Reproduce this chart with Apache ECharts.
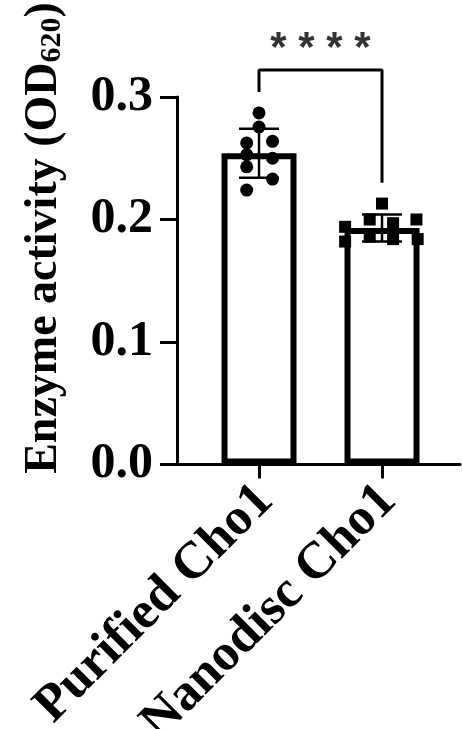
<!DOCTYPE html>
<html>
<head>
<meta charset="utf-8">
<script src="https://cdn.jsdelivr.net/npm/echarts@6/dist/echarts.min.js"></script>
<style>
  html, body { margin: 0; padding: 0; background: #fff; }
  #chart { width: 462px; height: 729px; }
</style>
</head>
<body>
<div id="chart"></div>
<script>
// Groups and measured enzyme activity (OD620) per replicate
const categories = ['Purified Cho1', 'Nanodisc Cho1'];
const purifiedValues = [0.287, 0.2755, 0.2625, 0.2638, 0.253, 0.250, 0.243, 0.233, 0.224];
const nanodiscValues = [0.213, 0.200, 0.197, 0.200, 0.194, 0.182, 0.186, 0.184, 0.184];
const groupMeans = [0.254, 0.193];
const groupSDs = [0.020, 0.011];
const yTicks = [0.0, 0.1, 0.2, 0.3];
const significance = '* * * *';

// Horizontal spread of replicate dots around each group centre (axis units)
const purifiedSpread = [0, 0, -0.1, 0.11, -0.1, 0.11, -0.1, 0.11, -0.1];
const nanodiscSpread = [0, -0.1, 0.09, 0.28, -0.3, -0.3, -0.1, 0.09, 0.29];

const serif = '"Liberation Serif", "Times New Roman", serif';
const groupPos = categories.map((_, i) => i + 1);

const bracketTop = Math.max(...purifiedValues, ...nanodiscValues) + 0.035;
const bracketData = [
  [groupPos[0], Math.max(...purifiedValues) + 0.017],
  [groupPos[0], bracketTop],
  [groupPos[1], bracketTop],
  [groupPos[1], Math.max(...nanodiscValues) + 0.017]
];

const chart = echarts.init(document.getElementById('chart'), null, { renderer: 'canvas' });

chart.setOption({
  animation: false,
  backgroundColor: '#fff',
  grid: { left: 177, top: 97, width: 283, height: 367.5, containLabel: false, outerBoundsMode: 'none' },
  xAxis: {
    type: 'value',
    min: 0.3333,
    max: 2.634,
    axisLine: { show: true, onZero: false, lineStyle: { color: '#000', width: 3 } },
    axisTick: { show: true, customValues: groupPos, length: 14, lineStyle: { color: '#000', width: 3 } },
    axisLabel: {
      show: true,
      customValues: groupPos,
      formatter: v => categories[Math.round(v) - 1] || '',
      rotate: 45,
      align: 'right',
      verticalAlign: 'top',
      margin: -2,
      padding: [0, 17, 0, 0],
      color: '#000',
      fontFamily: serif,
      fontWeight: 'bold',
      fontSize: 52
    },
    splitLine: { show: false }
  },
  yAxis: {
    type: 'value',
    min: yTicks[0],
    max: yTicks[yTicks.length - 1],
    interval: 0.1,
    axisLine: { show: true, lineStyle: { color: '#000', width: 3 } },
    axisTick: { show: true, length: 17, lineStyle: { color: '#000', width: 3 } },
    axisLabel: {
      formatter: v => v.toFixed(1),
      margin: 24,
      color: '#000',
      fontFamily: serif,
      fontWeight: 'bold',
      fontSize: 50
    },
    splitLine: { show: false }
  },
  graphic: [{
    type: 'text',
    x: 44,
    y: 238,
    rotation: Math.PI / 2,
    style: {
      text: 'Enzyme activity (OD{sub|620})',
      fill: '#000',
      font: 'bold 46px ' + serif,
      align: 'center',
      verticalAlign: 'middle',
      rich: {
        sub: { fontSize: 30, fontWeight: 'bold', fontFamily: serif, verticalAlign: 'bottom', padding: [6, 0, 0, 0], fill: '#000' }
      }
    }
  }],
  series: [
    {
      type: 'bar',
      data: groupPos.map((x, i) => [x, groupMeans[i]]),
      barWidth: 75,
      itemStyle: { color: '#fff', borderColor: '#000', borderWidth: 6 },
      z: 2
    },
    {
      type: 'custom',
      data: groupPos.map((x, i) => [x, groupMeans[i], groupSDs[i]]),
      renderItem: (params, api) => {
        const x = api.value(0), m = api.value(1), s = api.value(2);
        const top = api.coord([x, m + s]);
        const bot = api.coord([x, m - s]);
        const half = 20;
        const style = { stroke: '#000', lineWidth: 2.5, fill: null };
        return {
          type: 'group',
          children: [
            { type: 'line', shape: { x1: top[0], y1: top[1], x2: bot[0], y2: bot[1] }, style },
            { type: 'line', shape: { x1: top[0] - half, y1: top[1], x2: top[0] + half, y2: top[1] }, style },
            { type: 'line', shape: { x1: bot[0] - half, y1: bot[1], x2: bot[0] + half, y2: bot[1] }, style }
          ]
        };
      },
      z: 3
    },
    {
      type: 'scatter',
      data: purifiedValues.map((v, i) => [groupPos[0] + purifiedSpread[i], v]),
      symbol: 'circle',
      symbolSize: 13,
      itemStyle: { color: '#000', opacity: 1 },
      z: 4
    },
    {
      type: 'scatter',
      data: nanodiscValues.map((v, i) => [groupPos[1] + nanodiscSpread[i], v]),
      symbol: 'rect',
      symbolSize: 12,
      itemStyle: { color: '#000', opacity: 1 },
      z: 4
    },
    {
      type: 'line',
      data: bracketData,
      symbol: 'none',
      clip: false,
      lineStyle: { color: '#000', width: 3 },
      z: 5
    },
    {
      type: 'scatter',
      data: [[(groupPos[0] + groupPos[1]) / 2, bracketTop + 0.017]],
      symbolSize: 0,
      clip: false,
      label: {
        show: true,
        position: 'inside',
        formatter: significance,
        color: '#000',
        fontFamily: '"Liberation Sans", Arial, sans-serif',
        fontWeight: 'bold',
        fontSize: 42
      },
      z: 5
    }
  ]
});
</script>
</body>
</html>
